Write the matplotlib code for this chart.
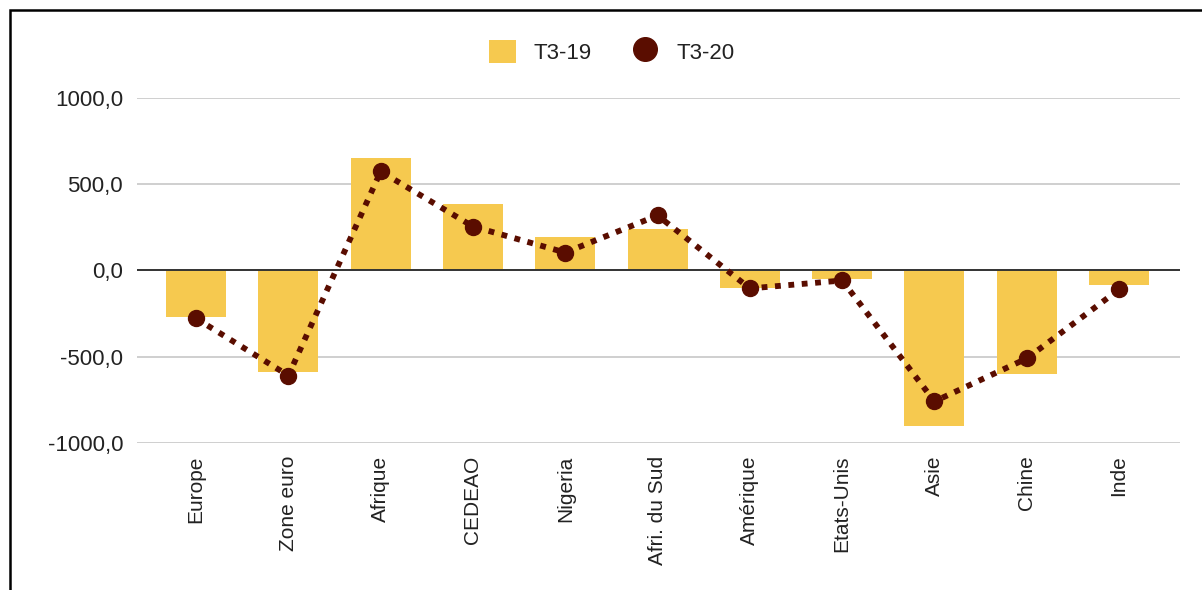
import matplotlib.pyplot as plt
from matplotlib.lines import Line2D
from matplotlib.patches import Patch, Rectangle
from matplotlib.ticker import FuncFormatter

plt.rcParams['font.family'] = ['Liberation Sans', 'DejaVu Sans']

categories = ["Europe", "Zone euro", "Afrique", "CEDEAO", "Nigeria", "Afri. du Sud",
              "Amérique", "Etats-Unis", "Asie", "Chine", "Inde"]
t3_19 = [-272, -591, 655, 388, 197, 243, -99, -52, -904, -603, -87]
t3_20 = [-278, -609, 574, 255, 104, 319, -104, -58, -759, -510, -110]

BAR_COLOR = "#f6c94f"
DOT_COLOR = "#5a0d00"

fig = plt.figure(figsize=(12.02, 5.90), dpi=100)
ax = fig.add_axes([0.114, 0.2492, 0.8677, 0.5847])

x = list(range(len(categories)))
ax.bar(x, t3_19, width=0.65, color=BAR_COLOR, zorder=2)
ax.plot(x, t3_20, color=DOT_COLOR, linestyle=(0, (1.0, 1.3)), linewidth=4.2,
        dash_capstyle="butt", marker="o", markersize=11.5, zorder=4)

ax.set_xlim(-0.64, 10.66)
ax.set_ylim(-1000, 1000)
ax.set_yticks([-1000, -500, 0, 500, 1000])
ax.yaxis.set_major_formatter(FuncFormatter(lambda v, p: f"{v:.1f}".replace(".", ",")))
ax.grid(axis="y", color="#cccccc", linewidth=1.3, zorder=0)
ax.axhline(0, color="#333333", linewidth=1.4, zorder=3)

ax.set_xticks(x)
ax.set_xticklabels(categories, rotation=90, fontsize=15, color="#222222", va="top")
ax.tick_params(axis="x", length=0, pad=9)
ax.tick_params(axis="y", length=0, pad=10, labelsize=16, labelcolor="#222222")
for s in ax.spines.values():
    s.set_visible(False)

handles = [Patch(facecolor=BAR_COLOR, edgecolor="none", label="T3-19"),
           Line2D([], [], color=DOT_COLOR, marker="o", linestyle="none",
                  markersize=17, label="T3-20")]
fig.legend(handles=handles, loc="center", bbox_to_anchor=(0.509, 0.912), ncol=2,
           frameon=False, fontsize=16, handlelength=1.2, handleheight=1.2,
           columnspacing=1.8, handletextpad=0.8, labelcolor="#222222")

# outer frame of the original image
fig.patches.append(Rectangle((10 / 1202, -0.1), 1.2, 1 - 10 / 590 + 0.1,
                             transform=fig.transFigure, fill=False,
                             edgecolor="black", linewidth=1.8))

fig.savefig("out.png", dpi=100)
